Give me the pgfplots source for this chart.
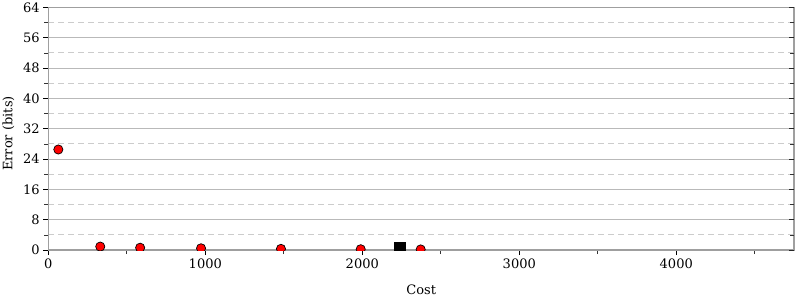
\documentclass[border=0pt]{standalone}
\usepackage{fontspec}
\setmainfont{DejaVu Serif}
\usepackage{pgfplots}
\pgfplotsset{compat=1.18}
\begin{document}
\begin{tikzpicture}
\pgfplotsset{
  common/.style={
    scale only axis, width=745.7pt, height=242.7pt,
    xmin=0, xmax=4750, ymin=0, ymax=64,
    xtick={0,1000,...,4000}, minor xtick={500,1500,...,4500},
    ytick={0,8,...,64}, minor ytick={4,12,...,60},
    major tick length=5pt, minor tick length=4pt,
    /pgf/number format/assume math mode=true,
    ticklabel style={font=\fontsize{13}{15}\selectfont},
    label style={font=\fontsize{13}{15}\selectfont},
  }
}
\begin{axis}[common,
  axis line style={draw=gray!75, line width=1.3pt},
  xtick pos=bottom, ytick pos=left, tick align=outside,
  major tick style={black, line width=0.8pt},
  minor tick style={gray!40!black, line width=0.6pt},
  ymajorgrids, yminorgrids,
  major grid style={gray!55, line width=0.7pt},
  minor grid style={gray!40, line width=0.7pt, dash pattern=on 6pt off 4pt},
  /pgf/number format/1000 sep={},
  xlabel={Cost}, ylabel={Error (bits)},
  xlabel style={at={(axis description cs:0.5,-0.165)}, anchor=center},
  ylabel style={at={(axis description cs:-0.0536,0.48)}, anchor=center},
  clip marker paths=true,
]
\addplot[only marks, mark=*, mark size=4.6pt, mark options={fill=red, draw=black, line width=0.7pt}]
coordinates {(64,26.5) (331,0.9) (585,0.6) (973,0.45) (1482,0.3) (1990,0.2) (2372,0.15)};
\addplot[only marks, mark=square*, mark size=5.3pt, mark options={fill=black, draw=black}]
coordinates {(2238,0.7)};
\end{axis}
\begin{axis}[common,
  axis line style={draw=none},
  xtick=\empty, yticklabels={}, ytick pos=right, tick align=inside,
  major tick style={gray!30!black, line width=0.8pt},
  minor tick style={gray!40!black, line width=0.6pt},
]
\end{axis}
\pgfresetboundingbox
\useasboundingbox (-48.3pt,-50pt) rectangle (751.7pt,250pt);
\end{tikzpicture}
\end{document}
